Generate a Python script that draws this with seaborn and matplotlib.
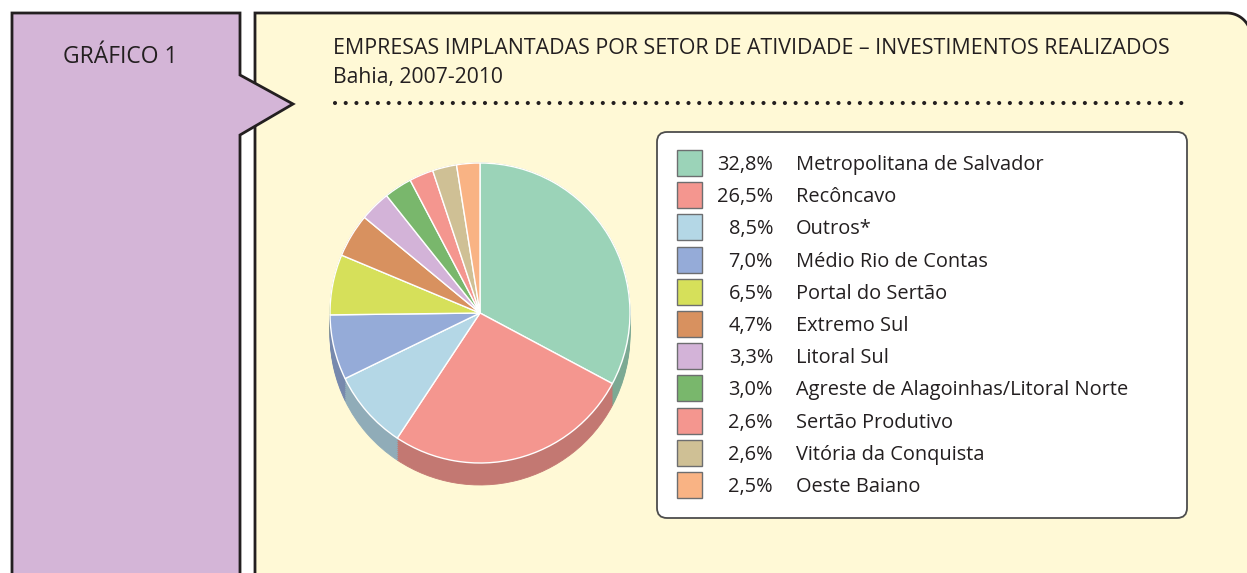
import numpy as np
import matplotlib
matplotlib.use("Agg")
import matplotlib.pyplot as plt
import seaborn as sns
from matplotlib.patches import Polygon, Rectangle, FancyBboxPatch
from matplotlib.colors import to_rgb

# data
regions = ['Metropolitana de Salvador', 'Recôncavo', 'Outros*', 'Médio Rio de Contas',
           'Portal do Sertão', 'Extremo Sul', 'Litoral Sul',
           'Agreste de Alagoinhas/Litoral Norte', 'Sertão Produtivo',
           'Vitória da Conquista', 'Oeste Baiano']
shares = [32.8, 26.5, 8.5, 7.0, 6.5, 4.7, 3.3, 3.0, 2.6, 2.6, 2.5]
colors = ['#9BD3B8', '#F4968F', '#B4D7E6', '#95ABD8', '#D6E05A', '#D8915F',
          '#D3B3D8', '#79B76C', '#F4968F', '#CFC095', '#F9B384']

title = 'EMPRESAS IMPLANTADAS POR SETOR DE ATIVIDADE – INVESTIMENTOS REALIZADOS'
subtitle = 'Bahia, 2007-2010'
label = 'GRÁFICO 1'

sns.set_theme(style="white")
plt.rcParams['font.family'] = ['Open Sans', 'DejaVu Sans']

INK = '#231F20'
W, H = 1247, 573
fig = plt.figure(figsize=(W / 100, H / 100), dpi=100)
fig.patch.set_facecolor('white')

# background axes in pixel coordinates (y grows downward)
bg = fig.add_axes([0, 0, 1, 1])
bg.set_xlim(0, W)
bg.set_ylim(H, 0)
bg.axis('off')

# yellow panel with rounded top-right corner
r = 24
x0, x1, y0, y1 = 255, 1251, 13, 600
t = np.linspace(np.pi / 2, 0, 20)
corner = np.column_stack([x1 - r + r * np.cos(t), y0 + r - r * np.sin(t)])
yellow = np.vstack([[x0, y1], [x0, y0], corner, [x1, y1]])
bg.add_patch(Polygon(yellow, closed=False, facecolor='#FFF9D6', edgecolor=INK,
                     linewidth=2.0, zorder=1))

# purple tab with arrow
purple = [(12, 600), (12, 13), (240, 13), (240, 75), (293, 104), (240, 135), (240, 600)]
bg.add_patch(Polygon(purple, closed=False, facecolor='#D4B5D7', edgecolor=INK,
                     linewidth=2.0, zorder=2))
bg.text(63, 57, label, fontsize=16.5, color=INK, va='center', ha='left', zorder=3)

# titles and dotted rule
bg.text(333, 49, title, fontsize=15.4, color=INK, va='center', ha='left', zorder=3)
bg.text(333, 77, subtitle, fontsize=15.2, color=INK, va='center', ha='left', zorder=3)
bg.plot([335, 1190], [103, 103], color=INK, linewidth=3.0,
        linestyle=(0, (0.001, 2.57)), dash_capstyle='round', zorder=3)

# legend box
bg.add_patch(FancyBboxPatch((657, 132), 530, 386, boxstyle='round,pad=0,rounding_size=10',
                            facecolor='white', edgecolor='#4D4D4D', linewidth=1.3, zorder=3))
row0, step = 163, 32.2
for i, (name, val, col) in enumerate(zip(regions, shares, colors)):
    y = row0 + i * step
    bg.add_patch(Rectangle((677, y - 13), 25, 26, facecolor=col, edgecolor='#6D6E70',
                           linewidth=1.0, zorder=4))
    bg.text(773, y + 2, f'{val:.1f}%'.replace('.', ','), fontsize=14.4, color=INK,
            ha='right', va='center', zorder=4)
    bg.text(796, y + 2, name, fontsize=14.4, color=INK, ha='left', va='center', zorder=4)

# pie axes: 150 px per data unit, centre at (480, 313)
ax = fig.add_axes([310 / W, 1 - 503 / H, 340 / W, 360 / H], zorder=5)
depth = 22 / 150
side = [tuple(c * 0.8 for c in to_rgb(col)) for col in colors]
for off in np.linspace(depth, 0, 12):
    wedges, _ = ax.pie(shares, colors=side, startangle=90, counterclock=False,
                       center=(0, -off), wedgeprops=dict(linewidth=0.6))
    for w, c in zip(wedges, side):
        w.set_edgecolor(c)
ax.pie(shares, colors=colors, startangle=90, counterclock=False,
       wedgeprops=dict(linewidth=1.0, edgecolor='white'))
ax.set_xlim(-170 / 150, 170 / 150)
ax.set_ylim(-190 / 150, 170 / 150)
ax.set_aspect('equal', adjustable='box')
ax.axis('off')

fig.savefig('out.png', dpi=100)
